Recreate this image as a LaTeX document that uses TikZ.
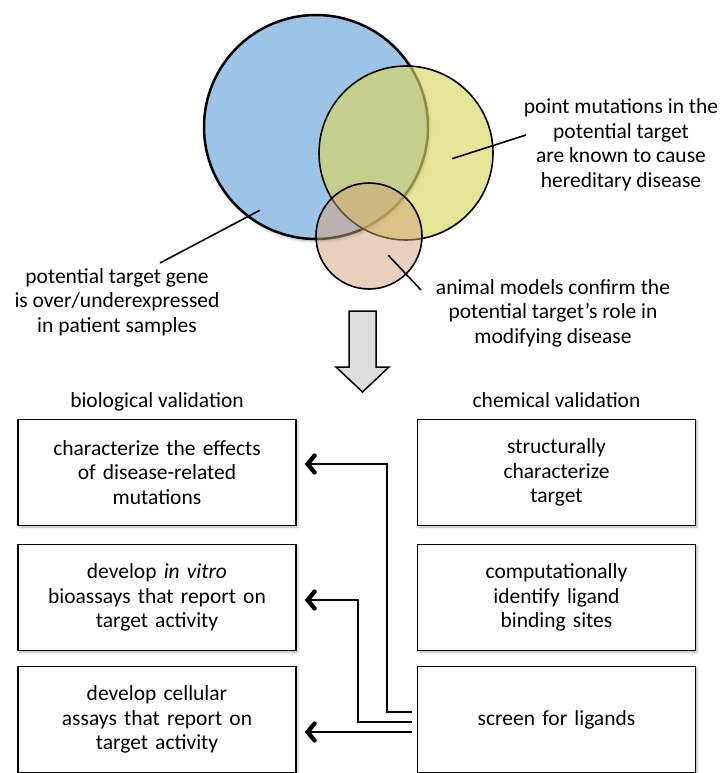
\documentclass[tikz,border=0pt]{standalone}
\usepackage{fontspec}
\setmainfont{Carlito}
\usetikzlibrary{arrows.meta,calc,positioning,shadows.blur}

\definecolor{vennblue}{RGB}{157,195,230}
\definecolor{vennyellow}{RGB}{217,214,96}
\definecolor{venntan}{RGB}{209,161,121}
\definecolor{arrowgray}{RGB}{221,221,221}

\begin{document}
\begin{tikzpicture}[x=1pt, y=-1pt, font=\fontsize{21.5}{24.5}\selectfont,
	venn/.style={circle, draw, inner sep=0pt},
	leader/.style={line width=1.6pt},
	note/.style={align=center, inner sep=0pt},
	head/.style={inner sep=0pt, text height=15pt, text depth=5pt},
	task/.style={draw, fill=white, line width=1.6pt, minimum width=278pt, minimum height=106pt,
		align=center, text width=260pt,
		blur shadow={shadow xshift=1.5pt, shadow yshift=-1.5pt, shadow blur radius=2.5pt, shadow opacity=30}},
	conn/.style={line width=2.4pt, -{Straight Barb[length=7pt,width=17pt,line width=0pt 1.8,line cap=round]}, shorten <=5pt, shorten >=8pt}]
	\useasboundingbox (0,0) rectangle (723,773);
	% Venn diagram
	\node[venn, fill=vennblue, line width=2.5pt, minimum size=224pt,
		blur shadow={shadow xshift=1.5pt, shadow yshift=-2pt, shadow blur radius=3pt, shadow opacity=35}] (blue) at (316,127) {};
	\node[venn, fill=vennyellow, fill opacity=0.66, line width=1.6pt, minimum size=174pt] (yellow) at (406,153) {};
	\node[venn, fill=venntan, fill opacity=0.5, line width=1.6pt, minimum size=106pt] (tan) at (369,236) {};
	\node[note] (gene) at (117,302) {potential target gene\\is over/underexpressed\\in patient samples};
	\node[note] (mutation) at (621,145) {point mutations in the\\potential target\\are known to cause\\hereditary disease};
	\node[note] (model) at (553,313) {animal models confirm the\\potential target’s role in\\modifying disease};
	\coordinate (gene-end) at (160,263);
	\coordinate (mutation-end) at (526,135);
	\coordinate (model-end) at (421,290);
	\draw[leader] ($(blue.center)!0.887!(blue.236)$) -- (gene-end);
	\draw[leader] ($(yellow.center)!0.53!(yellow.-7)$) -- (mutation-end);
	\draw[leader] ($(tan.center)!0.51!(tan.-45)$) -- (model-end);
	\draw[line width=1.5pt, fill=arrowgray] (349,311) -- (376,311) -- (376,367) -- (389,367)
		-- (362.5,392) -- (336,367) -- (349,367) -- cycle;
	% validation steps
	\node[task] (effects) at (157,472.5) {characterize the effects\\of disease-related\\mutations};
	\node[task] (bioassay) at (157,597.5) {develop \textit{in vitro}\\bioassays that report on\\target activity};
	\node[task] (cellular) at (157,719.5) {develop cellular\\assays that report on\\target activity};
	\node[task] (structure) at (556.5,472.5) {structurally\\characterize\\target};
	\node[task] (sites) at (556.5,597.5) {computationally\\identify ligand\\binding sites};
	\node[task] (screen) at (556.5,719.5) {screen for ligands};
	\node[head, above=6pt of effects] (biohead) {biological validation};
	\node[head, above=6pt of structure] (chemhead) {chemical validation};
	\coordinate (up1) at (387,464);
	\coordinate (up2) at (358,600);
	\draw[conn] ([yshift=7.5pt]screen.west) -| (up1) -- (effects.east |- up1);
	\draw[conn] ([yshift=-2.5pt]screen.west) -| (up2) -- (bioassay.east |- up2);
	\draw[conn] ([yshift=-12.5pt]screen.west) -- ([yshift=-12.5pt]cellular.east);
\end{tikzpicture}
\end{document}
